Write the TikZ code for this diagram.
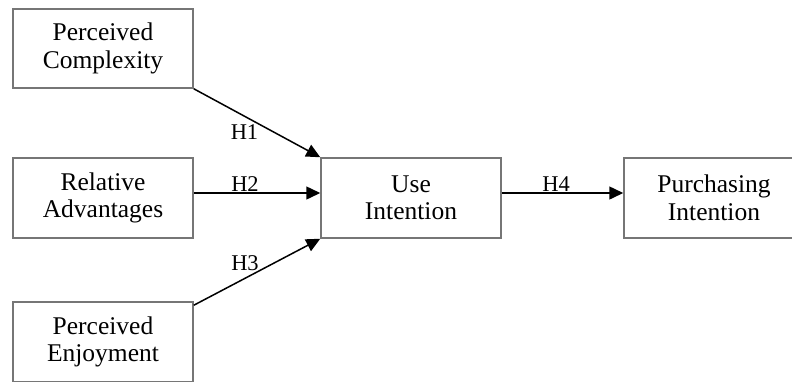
\documentclass[tikz,border=0pt]{standalone}
\usepackage{fontspec}
\setmainfont{Liberation Serif}
\usetikzlibrary{arrows.meta}
\definecolor{boxline}{RGB}{118,118,118}
\tikzset{
  construct/.style={draw=boxline, line width=1.5pt, fill=white, rectangle,
    minimum width=180pt, minimum height=80pt, inner sep=0pt, align=center,
    font=\fontsize{25.5}{27.5}\selectfont},
  path link/.style={draw=black, line width=1.5pt,
    -{Triangle[length=14pt,width=13pt]}},
  hyp/.style={anchor=base, inner sep=0pt, font=\fontsize{22.5}{24}\selectfont}
}
\begin{document}
\begin{tikzpicture}[x=1pt,y=-1pt]
  \useasboundingbox (0,0) rectangle (792,381);
  \clip (0,0) rectangle (792,381);

  % constructs of the research model
  \node[construct, minimum height=79pt] (pc) at (103,48.5) {Perceived\\Complexity};
  \node[construct] (ra) at (103,198) {Relative\\Advantages};
  \node[construct] (pe) at (103,342) {Perceived\\Enjoyment};
  \node[construct] (ui) at (411,198) {Use\\Intention};
  \node[construct] (pi) at (714,198) {Purchasing\\Intention};

  % hypothesised paths
  \draw[path link] (pc.south east) -- (ui.north west);
  \draw[path link] ([yshift=5pt]ra.east) -- ([yshift=5pt]ui.west);
  \draw[path link] ([yshift=-4pt]pe.north east) -- (ui.south west);
  \draw[path link] ([yshift=5pt]ui.east) -- ([yshift=5pt]pi.west);

  % hypothesis labels
  \node[hyp] (h1) at (244.5,139) {H1};
  \node[hyp] (h2) at (245,191.5) {H2};
  \node[hyp] (h3) at (245,270) {H3};
  \node[hyp] (h4) at (556,191.5) {H4};
\end{tikzpicture}
\end{document}
